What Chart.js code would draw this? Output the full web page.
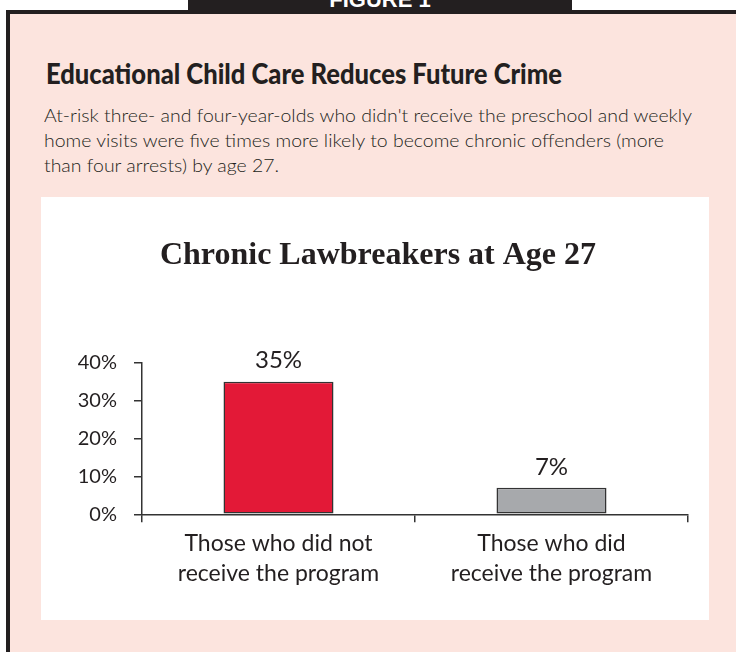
<!DOCTYPE html>
<html>
<head>
<meta charset="utf-8">
<script src="https://cdn.jsdelivr.net/npm/chart.js@4.4.1/dist/chart.umd.min.js"></script>
<style>
  html, body { margin: 0; padding: 0; background: #fff; }
  body { width: 736px; height: 652px; position: relative; overflow: hidden; font-family: Lato, sans-serif; color: #231f20; }
  .tab { position: absolute; left: 188px; top: 0; width: 384px; height: 12px; background: #231f20; overflow: hidden; }
  .tab span { position: absolute; left: 0; right: 0; top: -11px; text-align: center; color: #fff;
              font: bold 22px "Liberation Sans", Arial, sans-serif; line-height: 22px; }
  .frame { position: absolute; left: 6px; top: 10px; right: 0; bottom: 0; background: #fce4de;
           border-top: 4px solid #231f20; border-left: 4px solid #231f20; }
  .title { position: absolute; left: 46px; top: 57px; font: 900 28px Lato, sans-serif; line-height: 1.2;
           white-space: nowrap; transform-origin: 0 0; }
  .sub { position: absolute; left: 44px; top: 103px; font: 300 17px Lato, sans-serif; line-height: 25px;
         color: #231f20; white-space: nowrap; transform-origin: 0 0; }
  .panel { position: absolute; left: 41px; top: 197px; width: 668px; height: 423px; background: #fff; }
</style>
</head>
<body>
<div class="tab"><span>FIGURE 1</span></div>
<div class="frame"></div>
<div class="title" id="title">Educational Child Care Reduces Future Crime</div>
<div class="sub" id="sub">
  <div id="sub1">At-risk three- and four-year-olds who didn't receive the preschool and weekly</div>
  <div>home visits were five times more likely to become chronic offenders (more</div>
  <div>than four arrests) by age 27.</div>
</div>
<div class="panel"><canvas id="chart" width="668" height="423"></canvas></div>
<script>
// data
const categories = [['Those who did not', 'receive the program'], ['Those who did', 'receive the program']];
const values = [35, 7];
const barColors = ['#e31937', '#a7a9ac'];
const yMax = 40;
const yStep = 10;

// squeeze the heading lines to the reference widths (Gill Sans is narrower than Lato)
function fitWidth(el, target) {
    const w = el.scrollWidth;
    return w > 0 ? target / w : 1;
}
const titleEl = document.getElementById('title');
titleEl.style.transform = 'scaleX(' + fitWidth(titleEl, 516) + ')';
const subEl = document.getElementById('sub');
subEl.style.transform = 'scaleX(' + fitWidth(document.getElementById('sub1'), 648) + ')';

// value labels above the bars
const barValueLabels = {
    id: 'barValueLabels',
    afterDatasetsDraw(chart) {
        const ctx = chart.ctx;
        const meta = chart.getDatasetMeta(0);
        ctx.save();
        ctx.font = '24px Lato';
        ctx.fillStyle = '#231f20';
        ctx.textAlign = 'center';
        ctx.textBaseline = 'middle';
        meta.data.forEach((bar, i) => {
            ctx.fillText(values[i] + '%', bar.x, bar.y - 21);
        });
        ctx.restore();
    }
};

const axisColor = '#333';
new Chart(document.getElementById('chart').getContext('2d'), {
    type: 'bar',
    data: {
        labels: categories,
        datasets: [{
            data: values,
            backgroundColor: barColors,
            borderColor: axisColor,
            borderWidth: 1.5,
            borderSkipped: false,
            categoryPercentage: 1,
            barPercentage: 0.403
        }]
    },
    options: {
        responsive: false,
        animation: false,
        layout: { padding: { left: 27, right: 21, top: 0, bottom: 0 } },
        plugins: {
            legend: { display: false },
            tooltip: { enabled: false },
            title: {
                display: true,
                text: 'Chronic Lawbreakers at Age 27',
                color: '#231f20',
                font: { family: '"Liberation Serif", serif', size: 32, weight: 'bold' },
                padding: { top: 40, bottom: 87.3 }
            }
        },
        scales: {
            x: {
                grid: { display: true, drawOnChartArea: false, offset: true, tickLength: 8, color: axisColor, lineWidth: 1.5 },
                border: { color: axisColor, width: 1.5 },
                ticks: { color: '#231f20', font: { family: 'Lato', size: 23, lineHeight: 1.3 }, padding: 6 },
                afterFit: s => { s.height = 105.7; }
            },
            y: {
                min: 0,
                max: yMax,
                grid: { drawOnChartArea: false, tickLength: 8, color: axisColor, lineWidth: 1.5 },
                border: { color: axisColor, width: 1.5 },
                ticks: { stepSize: yStep, color: '#231f20', font: { family: 'Lato', size: 20 }, padding: 17,
                         callback: v => v + '%' },
                afterFit: s => { s.width = 74; }
            }
        }
    },
    plugins: [barValueLabels]
});
</script>
</body>
</html>
